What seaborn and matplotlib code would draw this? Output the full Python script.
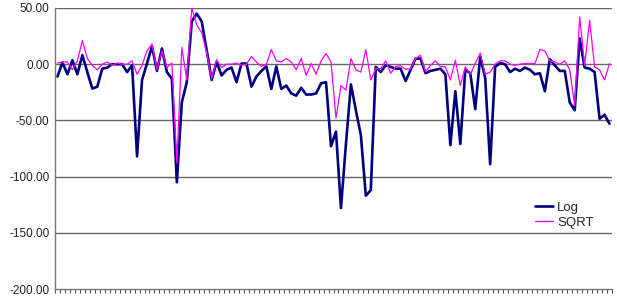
import numpy as np
import pandas as pd
import matplotlib
matplotlib.use("Agg")
import matplotlib.pyplot as plt
import seaborn as sns

log_values = [
    -11, 1.5, -9, 3.6, -9, 8, -7, -21.7, -20, -4,
    -3, 0, 0, 0, -7, -1, -82, -14, 0.6, 16,
    -6, 14, -7, -13, -105, -34, -16, 38, 45, 38,
    12.5, -14, 2, -10, -5, -3, -16, 0.6, 0.6, -20,
    -11, -6, -2, -22, -2, -22, -19, -26, -28, -21,
    -27, -27, -26, -17, -16, -73,
    -60, -128, -71, -18, -41, -63, -117, -112, -2.4, -7,
    -1, -2.4, -4, -4, -15, -5, 5, 5, -8, -6,
    -5, -4, -9, -72, -24, -71, -5, -8, -40, 6.5,
    -12, -89, -2.4, 1, 0, -7, -4, -6, -3, -5,
    -9, -8, -24, 4.5, -1, -6, -6, -34, -41, 23,
    -3, -4, -7, -48.5, -45, -53,
]
sqrt_values = [
    1, 2, 2, -5, 3, 21, 5, -1, -5, 0,
    2, -1, 1, 0, 0, 3, -9, -1, 12, 18,
    -5, 12, -3, 1, -88, 15, -14, 50, 35, 28,
    10, -13, 4, -3, 0, 0, 1, -1, 0, 7,
    2, -2, 0, 13, 3, 2, 5, 2, -5, 5,
    -10, 0.6, -9, 3, 9.5, 2,
    -48, -19, -23, 5, -5, -7, 13, -14, -4, -4,
    3, -8, -2, -1.5, -4.5, -4, 5, 8, -7, -1,
    3, -2, -2.4, -14, 3.6, -19, -2.4, -9, 0.6, 10,
    -9, -7, 0, 3, 3, 0, -1, 0, 0.6, 0.6,
    0.6, 13, 12, 3, 2, 0, 3, -5, -37, 42,
    -1, 39, -2.4, -5, -14, 0.6,
]
series_names = ["Log", "SQRT"]
y_ticks = [-200, -150, -100, -50, 0, 50]

n = len(log_values)
idx = np.arange(n)
df = pd.DataFrame({
    "idx": np.concatenate([idx, idx]),
    "value": log_values + sqrt_values,
    "series": [series_names[0]] * n + [series_names[1]] * n,
})

sns.set_style("white")
plt.rcParams["font.family"] = ["Liberation Sans", "DejaVu Sans"]

fig = plt.figure(figsize=(6.17, 2.97), dpi=100)
ax = fig.add_axes([55 / 617, 1 - 289 / 297, (612 - 55) / 617, (289 - 8) / 297])

sns.lineplot(data=df, x="idx", y="value", hue="series",
             palette={"Log": "#000080", "SQRT": "#FF00FF"},
             size="series", sizes={"Log": 1.9, "SQRT": 0.9},
             ax=ax, legend=True)

ax.set_ylim(-200, 50)
ax.set_xlim(-0.5, n - 0.5)
ax.set_yticks(y_ticks)
ax.set_yticklabels([f"{v:.2f}" for v in y_ticks], fontsize=8.5, color="#222222")
for v in y_ticks:
    if v != -200:
        ax.axhline(v, color="#666666", lw=1.0, zorder=0)

ax.set_xticks(np.arange(-0.5, n, 1.0))
ax.set_xticklabels([])
ax.tick_params(axis="x", direction="out", length=3, width=0.8, color="#555555", bottom=True)
ax.tick_params(axis="y", length=0, pad=4)
ax.set_xlabel("")
ax.set_ylabel("")

for s in ["top", "right"]:
    ax.spines[s].set_visible(False)
ax.spines["left"].set_color("#777777")
ax.spines["bottom"].set_color("#777777")
ax.spines["left"].set_linewidth(1.0)
ax.spines["bottom"].set_linewidth(1.0)

handles, labels = ax.get_legend_handles_labels()
hl = [(h, l) for h, l in zip(handles, labels) if l in series_names]
leg = ax.legend([h for h, _ in hl], [l for _, l in hl], loc="upper left",
                bbox_to_anchor=((528 - 55) / 557, (289 - 195) / 281),
                frameon=False, fontsize=9.5, handlelength=1.4,
                handletextpad=0.3, borderpad=0, labelspacing=0.2)

fig.savefig("out.png", dpi=100)
